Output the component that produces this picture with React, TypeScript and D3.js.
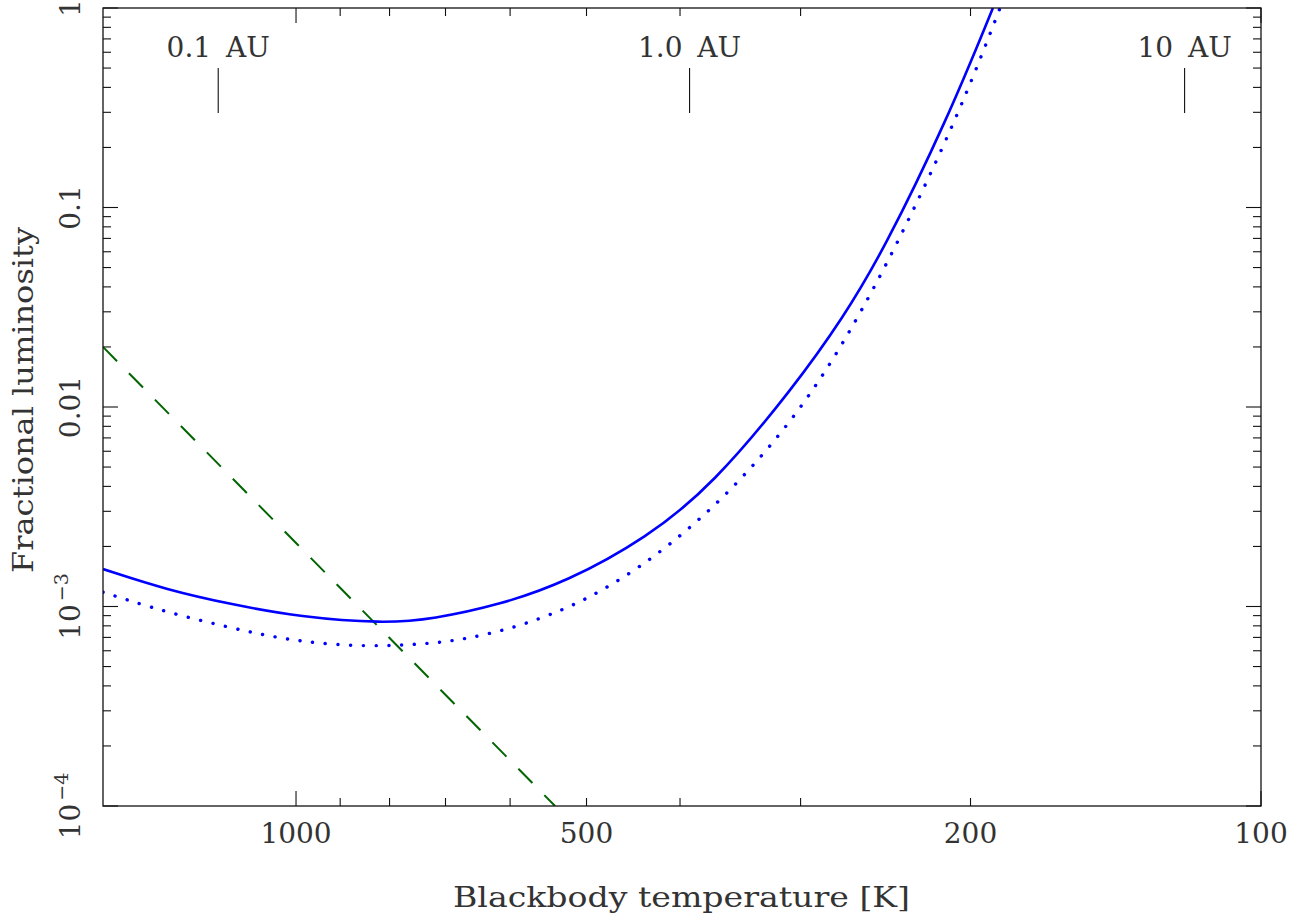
import React from 'react';
import * as d3 from 'd3';

// ---- data ----
const tempDomain: [number, number] = [1585, 100];
const lumDomain: [number, number] = [1e-4, 1];

const xLabelTicks = [1000, 500, 200, 100];
const xMajorTicks = [1000, 100];
const xMinorTicks = [900, 800, 700, 600, 500, 400, 300, 200];

const yMajorTicks = [1e-4, 1e-3, 1e-2, 1e-1, 1];
const yTickLabels = [
  { base: '10', exp: '\u22124' },
  { base: '10', exp: '\u22123' },
  { base: '0.01', exp: '' },
  { base: '0.1', exp: '' },
  { base: '1', exp: '' },
];
const yDecades = [1e-4, 1e-3, 1e-2, 1e-1];
const yMinorMultipliers = [2, 3, 4, 5, 6, 7, 8, 9];

const auLabels = ['0.1 AU', '1.0 AU', '10 AU'];
const auTemps = [1204, 391, 120];

const solidT = [1585, 1360, 1162, 991, 812, 721, 615, 524, 433, 370, 304.8, 271.2, 246, 211.5, 189.6];
const solidF = [1.54e-3, 1.21e-3, 1.02e-3, 8.86e-4, 8.22e-4, 8.65e-4, 1.02e-3, 1.33e-3, 2.21e-3, 4.06e-3, 0.0126, 0.0279, 0.0612, 0.275, 1.0];

const dottedT = [1585, 1367, 1111, 986, 848, 730, 665, 590, 529, 486, 428, 364, 316, 288.5, 266.7, 240.6, 206, 186.4];
const dottedF = [1.18e-3, 9.38e-4, 7.37e-4, 6.64e-4, 6.27e-4, 6.49e-4, 6.87e-4, 7.89e-4, 9.6e-4, 1.17e-3, 1.71e-3, 3.3e-3, 7.07e-3, 0.0129, 0.0238, 0.0591, 0.287, 1.0];

const dashedT = [1585, 539];
const dashedF = [0.02, 1e-4];

const xTitle = 'Blackbody temperature [K]';
const yTitle = 'Fractional luminosity';

// ---- layout ----
const W = 1310;
const H = 917;
const L = 103, R = 1261, T = 8, B = 806;
const FONT = "'DejaVu Serif', serif";
const TXT = '#333';

export default function App() {
  const x = d3.scaleLog().domain(tempDomain).range([L, R]);
  const y = d3.scaleLog().domain(lumDomain).range([B, T]);

  const line = d3
    .line<[number, number]>()
    .x((d) => x(d[0]))
    .y((d) => y(d[1]))
    .curve(d3.curveBasis);

  const solid = line(solidT.map((t, i) => [t, solidF[i]] as [number, number])) || '';
  const dotted = line(dottedT.map((t, i) => [t, dottedF[i]] as [number, number])) || '';
  const dashed =
    d3
      .line<[number, number]>()
      .x((d) => x(d[0]))
      .y((d) => y(d[1]))(dashedT.map((t, i) => [t, dashedF[i]] as [number, number])) || '';

  const yMinor: number[] = [];
  yDecades.forEach((d) => yMinorMultipliers.forEach((m) => yMinor.push(d * m)));

  const MAJ = 15;
  const MIN = 8;

  return (
    <svg
      width={W}
      height={H}
      style={{ position: 'absolute', left: 0, top: 0, background: '#fff' }}
      fontFamily={FONT}
    >
      <defs>
        <clipPath id="plotclip">
          <rect x={L} y={T} width={R - L} height={B - T} />
        </clipPath>
      </defs>
      <rect x={0} y={0} width={W} height={H} fill="#fff" />

      {/* ticks */}
      <g stroke="#111" strokeWidth={1.1}>
        {xMajorTicks.map((t) => (
          <g key={'xM' + t}>
            <line x1={x(t)} x2={x(t)} y1={B} y2={B - MAJ} />
            <line x1={x(t)} x2={x(t)} y1={T} y2={T + MAJ} />
          </g>
        ))}
        {xMinorTicks.map((t) => (
          <g key={'xm' + t}>
            <line x1={x(t)} x2={x(t)} y1={B} y2={B - MIN} />
            <line x1={x(t)} x2={x(t)} y1={T} y2={T + MIN} />
          </g>
        ))}
        {yMajorTicks.map((v) => (
          <g key={'yM' + v}>
            <line x1={L} x2={L + MAJ} y1={y(v)} y2={y(v)} />
            <line x1={R} x2={R - MAJ} y1={y(v)} y2={y(v)} />
          </g>
        ))}
        {yMinor.map((v) => (
          <g key={'ym' + v}>
            <line x1={L} x2={L + MIN} y1={y(v)} y2={y(v)} />
            <line x1={R} x2={R - MIN} y1={y(v)} y2={y(v)} />
          </g>
        ))}
      </g>

      {/* AU markers */}
      <g>
        {auTemps.map((t, i) => (
          <g key={'au' + i}>
            <line x1={x(t)} x2={x(t)} y1={68} y2={113} stroke="#111" strokeWidth={1.1} />
            <text x={x(t)} y={57} textAnchor="middle" fontSize={28} fill={TXT} wordSpacing={6}>
              {auLabels[i]}
            </text>
          </g>
        ))}
      </g>

      {/* curves */}
      <g clipPath="url(#plotclip)" fill="none">
        <path d={dashed} stroke="#006400" strokeWidth={2} strokeDasharray="20 17" />
        <path d={solid} stroke="#0000ff" strokeWidth={2.6} />
        <path
          d={dotted}
          stroke="#0000ff"
          strokeWidth={3.4}
          strokeLinecap="round"
          strokeDasharray="0.1 12.6"
        />
      </g>

      {/* frame */}
      <rect x={L} y={T} width={R - L} height={B - T} fill="none" stroke="#111" strokeWidth={1.3} />

      {/* x tick labels */}
      {xLabelTicks.map((t) => (
        <text key={'xl' + t} x={x(t)} y={843} textAnchor="middle" fontSize={28} fill={TXT}>
          {t}
        </text>
      ))}

      {/* y tick labels */}
      {yMajorTicks.map((v, i) => (
        <text
          key={'yl' + v}
          transform={`translate(80, ${y(v)}) rotate(-90)`}
          textAnchor="middle"
          fontSize={28}
          fill={TXT}
        >
          {yTickLabels[i].base}
          {yTickLabels[i].exp ? (
            <tspan dy={-12} dx={3} fontSize={19}>
              {yTickLabels[i].exp}
            </tspan>
          ) : null}
        </text>
      ))}

      {/* titles */}
      <text
        x={681.5}
        y={907}
        textAnchor="middle"
        fontSize={28}
        fill={TXT}
        textLength={457}
        lengthAdjust="spacingAndGlyphs"
      >
        {xTitle}
      </text>
      <text
        transform="translate(33, 400) rotate(-90)"
        textAnchor="middle"
        fontSize={28}
        fill={TXT}
        textLength={346}
        lengthAdjust="spacingAndGlyphs"
      >
        {yTitle}
      </text>
    </svg>
  );
}
